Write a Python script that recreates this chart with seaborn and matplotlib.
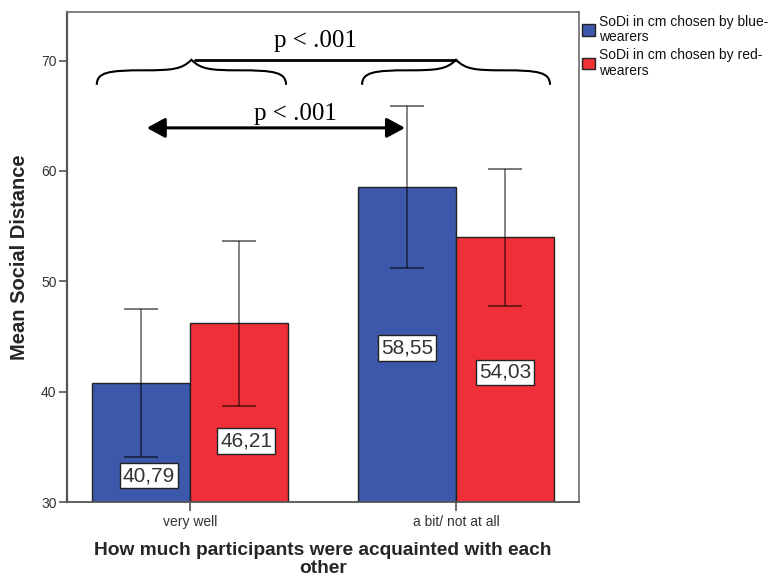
import matplotlib
matplotlib.use("Agg")
import matplotlib.pyplot as plt
from matplotlib.path import Path
from matplotlib.patches import PathPatch, Patch
import seaborn as sns
import pandas as pd
import numpy as np

# ---------------- data ----------------
categories = ["very well", "a bit/ not at all"]
series = ["SoDi in cm chosen by blue-\nwearers", "SoDi in cm chosen by red-\nwearers"]
blue_means = [40.79, 58.55]
red_means = [46.21, 54.03]
blue_ci_low = [34.08, 51.24]
blue_ci_high = [47.47, 65.84]
red_ci_low = [38.67, 47.77]
red_ci_high = [53.69, 60.19]
p_label = "p < .001"
y_ticks = [30, 40, 50, 60, 70]

# ---------------- layout / style ----------------
BLUE = "#3d57aa"
RED = "#ef3039"
label_y = [[32.4, 43.96], [35.53, 41.74]]      # value-box centres (per series, per category)
label_dx = [[0.03, 0.0], [0.027, 0.0]]

df = pd.DataFrame({
    "cat": categories * 2,
    "series": [series[0]] * 2 + [series[1]] * 2,
    "value": blue_means + red_means,
})

sns.set_theme(style="white")
plt.rcParams["font.family"] = ["Liberation Sans", "DejaVu Sans"]

fig = plt.figure(figsize=(7.69, 5.79), dpi=100)
ax = fig.add_axes([67 / 769, 1 - 502 / 579, 512 / 769, 490 / 579])

sns.barplot(data=df, x="cat", y="value", hue="series", order=categories,
            hue_order=series, palette=[BLUE, RED], width=0.737, saturation=1,
            edgecolor="#222222", linewidth=1.0, errorbar=None, legend=False, ax=ax)

ax.set_ylim(30, 74.4)
ax.set_xlim(-0.462, 1.462)

lows = [blue_ci_low, red_ci_low]
highs = [blue_ci_high, red_ci_high]
means = [blue_means, red_means]
bar_conts = list(ax.containers)
for si, cont in enumerate(bar_conts):
    xs = [b.get_x() + b.get_width() / 2 for b in cont]
    m = np.array(means[si])
    lo = np.array(lows[si])
    hi = np.array(highs[si])
    ax.errorbar(xs, m, yerr=[m - lo, hi - m], fmt="none",
                ecolor=(0, 0, 0, 0.62), elinewidth=1.1, capsize=12, capthick=1.2, zorder=4)
    for ci, x in enumerate(xs):
        txt = f"{m[ci]:.2f}".replace(".", ",")
        ax.text(x + label_dx[si][ci], label_y[si][ci], txt, ha="center", va="center",
                fontsize=15, color="#333333", zorder=5,
                bbox=dict(boxstyle="square,pad=0.15", fc="white", ec="#222222", lw=1.0))

# ---------------- braces & arrow ----------------
def brace(ax, x0, x1, ybot, ytop):
    h = (x1 - x0) / 2
    H = ytop - ybot
    xm = x0 + h
    L = [(0, 0), (0, 0.5), (0.12, 0.58), (0.5, 0.58), (0.8, 0.58), (0.9, 0.62), (1.0, 1.0)]
    R = [(2 - px, py) for px, py in reversed(L)]
    pts = L + R[1:]
    verts = [(x0 + px * h, ybot + py * H) for px, py in pts]
    codes = [Path.MOVETO] + [Path.CURVE4] * 6 + [Path.CURVE4] * 6
    ax.add_patch(PathPatch(Path(verts, codes), fc="none", ec="black", lw=1.5, zorder=6))
    return xm

c1 = brace(ax, -0.35, 0.361, 67.8, 70.07)
c2 = brace(ax, 0.647, 1.353, 67.8, 70.07)
ax.plot([c1 + 0.015, c2], [70.07, 70.07], color="black", lw=2.0, zorder=6)
ax.text(0.47, 71.2, p_label, ha="center", va="baseline", fontsize=18,
        family="Liberation Serif", color="black")

ax.annotate("", xy=(0.808, 63.9), xytext=(-0.162, 63.9),
            arrowprops=dict(arrowstyle="<|-|>,head_length=0.55,head_width=0.3",
                            color="black", lw=2.2, mutation_scale=20,
                            shrinkA=0, shrinkB=0), zorder=6)
ax.text(0.397, 64.63, p_label, ha="center", va="baseline", fontsize=18,
        family="Liberation Serif", color="black")

# ---------------- axes styling ----------------
ax.set_yticks(y_ticks)
for sp in ax.spines.values():
    sp.set_visible(True)
    sp.set_color("#777777")
    sp.set_linewidth(1.3)
ax.spines["left"].set_color("#555555")
ax.spines["left"].set_linewidth(1.6)
ax.spines["bottom"].set_color("#555555")
ax.tick_params(axis="y", which="both", left=True, length=6, width=1.2, color="#555555",
               labelsize=10, labelcolor="#333333", pad=1.5)
ax.tick_params(axis="x", which="both", bottom=True, length=6.5, width=1.2, color="#555555",
               labelsize=10, labelcolor="#333333", pad=3)

ax.set_ylabel("Mean Social Distance", fontsize=14.5, fontweight="bold", labelpad=9)
ax.set_xlabel("How much participants were acquainted with each\nother", fontsize=13.8,
              fontweight="bold", labelpad=9.5, linespacing=1.05)

handles = [Patch(facecolor=BLUE, edgecolor="#222222", lw=1.0),
           Patch(facecolor=RED, edgecolor="#222222", lw=1.0)]
leg = ax.legend(handles, series, loc="upper left", bbox_to_anchor=(1.0, 1.0),
                frameon=False, borderaxespad=0, borderpad=0.2, handlelength=0.95,
                handleheight=0.9, handletextpad=0.3, labelspacing=0.3, fontsize=10)
for t in leg.get_texts():
    t.set_linespacing(1.12)
    t.set_color("#111111")

fig.savefig("out.png", dpi=100)
